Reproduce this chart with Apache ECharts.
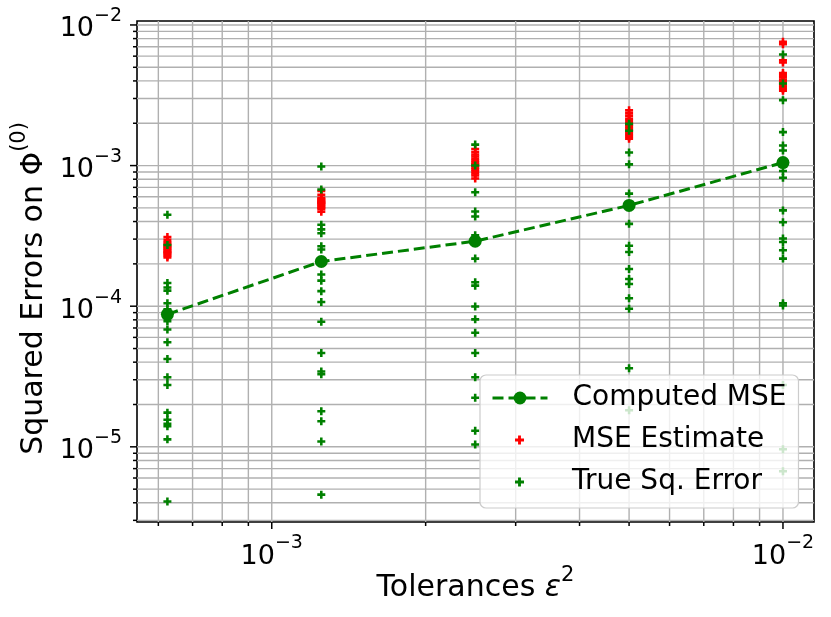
<!DOCTYPE html>
<html lang="en">
<head>
  <meta charset="UTF-8">
  <title>Squared errors vs tolerance</title>
  <script src="https://cdn.jsdelivr.net/npm/echarts@6.0.0/dist/echarts.min.js"></script>
  <style>
    html, body { margin: 0; padding: 0; background: #fff; }
    #main { width: 831px; height: 617px; }
  </style>
</head>
<body>
  <div id="main"></div>
  <script type="text/javascript">
    // tolerances eps^2 (one column of points per tolerance)
    var tolerances = [6.25e-4, 1.25e-3, 2.5e-3, 5e-3, 1e-2];
    var computedMse = [8.75e-5, 2.08e-4, 2.9e-4, 5.21e-4, 1.05e-3];

    // MSE estimates, one list per tolerance
    var mseEstimate = [
      [3.1e-4, 2.95e-4, 2.85e-4, 2.78e-4, 2.7e-4, 2.65e-4, 2.6e-4, 2.55e-4, 2.5e-4, 2.45e-4, 2.42e-4, 2.38e-4, 2.33e-4, 2.28e-4, 2.22e-4],
      [6.6e-4, 6.2e-4, 5.9e-4, 5.8e-4, 5.7e-4, 5.6e-4, 5.5e-4, 5.45e-4, 5.4e-4, 5.3e-4, 5.2e-4, 5.1e-4, 5.0e-4, 4.9e-4, 4.7e-4],
      [1.31e-3, 1.25e-3, 1.2e-3, 1.16e-3, 1.12e-3, 1.08e-3, 1.05e-3, 1.02e-3, 1.0e-3, 9.7e-4, 9.4e-4, 9.1e-4, 8.8e-4, 8.5e-4, 8.1e-4],
      [2.47e-3, 2.35e-3, 2.25e-3, 2.15e-3, 2.08e-3, 2.0e-3, 1.95e-3, 1.9e-3, 1.85e-3, 1.8e-3, 1.75e-3, 1.7e-3, 1.65e-3, 1.6e-3, 1.55e-3],
      [7.6e-3, 7.3e-3, 5.6e-3, 5.4e-3, 4.55e-3, 4.4e-3, 4.25e-3, 4.1e-3, 4.0e-3, 3.9e-3, 3.8e-3, 3.7e-3, 3.6e-3, 3.5e-3, 3.4e-3]
    ];

    // true squared errors, one list per tolerance
    var trueSqError = [
      [4.47e-4, 2.72e-4, 1.46e-4, 1.36e-4, 1.29e-4, 1.05e-4, 9.5e-5, 7.83e-5, 6.83e-5, 5.54e-5, 4.21e-5, 3.12e-5, 2.75e-5, 1.75e-5, 1.56e-5, 1.46e-5, 1.4e-5, 1.13e-5, 4.09e-6],
      [9.85e-4, 6.76e-4, 3.79e-4, 3.52e-4, 3.3e-4, 2.67e-4, 2.53e-4, 1.68e-4, 1.52e-4, 1.28e-4, 1.07e-4, 7.76e-5, 4.65e-5, 3.43e-5, 3.28e-5, 1.79e-5, 1.52e-5, 1.09e-5, 4.57e-6],
      [1.41e-3, 1.0e-3, 6.47e-4, 4.72e-4, 4.35e-4, 3.2e-4, 2.9e-4, 2.18e-4, 1.48e-4, 1.4e-4, 9.95e-5, 8.06e-5, 6.47e-5, 4.65e-5, 3.12e-5, 2.23e-5, 1.3e-5, 1.04e-5],
      [1.98e-3, 1.77e-3, 1.24e-3, 1.02e-3, 6.32e-4, 3.85e-4, 2.69e-4, 2.43e-4, 1.84e-4, 1.56e-4, 1.44e-4, 1.14e-4, 9.6e-5, 3.62e-5, 1.82e-5],
      [6.16e-3, 3.84e-3, 2.92e-3, 1.73e-3, 1.39e-3, 1.28e-3, 9.16e-4, 8.2e-4, 4.8e-4, 3.95e-4, 3.03e-4, 2.86e-4, 2.5e-4, 2.18e-4, 1.05e-4, 1.01e-4, 2.75e-5, 9.6e-6, 6.7e-6]
    ];

    // axis ranges and tick positions
    var xRange = [5.45e-4, 1.15e-2];
    var yRange = [2.92e-6, 1.067e-2];
    var xMajorTicks = [1e-3, 1e-2];
    var xMinorTicks = [6e-4, 7e-4, 8e-4, 9e-4, 2e-3, 3e-3, 4e-3, 5e-3, 6e-3, 7e-3, 8e-3, 9e-3];
    var yMajorTicks = [1e-5, 1e-4, 1e-3, 1e-2];
    var yMinorTicks = [3e-6, 4e-6, 5e-6, 6e-6, 7e-6, 8e-6, 9e-6,
      2e-5, 3e-5, 4e-5, 5e-5, 6e-5, 7e-5, 8e-5, 9e-5,
      2e-4, 3e-4, 4e-4, 5e-4, 6e-4, 7e-4, 8e-4, 9e-4,
      2e-3, 3e-3, 4e-3, 5e-3, 6e-3, 7e-3, 8e-3, 9e-3];

    var FONT = 'DejaVu Sans';
    var GRID_COLOR = '#b0b0b0';
    var PLUS = 'path://M3.4,0H6.6V3.4H10V6.6H6.6V10H3.4V6.6H0V3.4H3.4Z';
    var LEGEND_TEXT = { fontFamily: FONT, fontSize: 28, color: '#000', lineHeight: 30, padding: [0, 0, 0, 20] };

    function toPairs(groups) {
      var out = [];
      groups.forEach(function (g, i) {
        g.forEach(function (v) { out.push([tolerances[i], v]); });
      });
      return out;
    }

    function tickData(major, minor, other) {
      var out = [];
      major.forEach(function (v) { out.push([v, other, 1]); });
      minor.forEach(function (v) { out.push([v, other, 0]); });
      return out;
    }

    // power-of-ten label with superscript exponent
    function powLabel(v) {
      var e = Math.round(Math.log10(v));
      if (Math.abs(Math.log10(v) - e) > 1e-6) return '';
      return '{b|10}{s|\u2212' + Math.abs(e) + '}';
    }

    var labelRich = {
      b: { fontFamily: FONT, fontSize: 27, color: '#000', lineHeight: 36, verticalAlign: 'bottom' },
      s: { fontFamily: FONT, fontSize: 19, color: '#000', lineHeight: 22, verticalAlign: 'top' }
    };

    function renderXTick(params, api) {
      var cs = params.coordSys;
      var px = api.coord([api.value(0), yRange[0]])[0];
      var len = api.value(2) === 1 ? 7 : 4;
      var bottom = cs.y + cs.height;
      return {
        type: 'group',
        children: [
          { type: 'line', shape: { x1: px, y1: cs.y, x2: px, y2: bottom }, style: { stroke: GRID_COLOR, lineWidth: 1.4 } },
          { type: 'line', shape: { x1: px, y1: bottom, x2: px, y2: bottom + len }, style: { stroke: '#000', lineWidth: 1.5 } }
        ]
      };
    }

    function renderYTick(params, api) {
      var cs = params.coordSys;
      var py = api.coord([xRange[0], api.value(1)])[1];
      var len = api.value(2) === 1 ? 7 : 4;
      return {
        type: 'group',
        children: [
          { type: 'line', shape: { x1: cs.x, y1: py, x2: cs.x + cs.width, y2: py }, style: { stroke: GRID_COLOR, lineWidth: 1.4 } },
          { type: 'line', shape: { x1: cs.x - len, y1: py, x2: cs.x, y2: py }, style: { stroke: '#000', lineWidth: 1.5 } }
        ]
      };
    }

    var myChart = echarts.init(document.getElementById('main'));

    var option = {
      animation: false,
      backgroundColor: '#fff',
      grid: {
        left: 137, right: 17, top: 21, bottom: 95,
        show: true, borderColor: '#000', borderWidth: 1.6, backgroundColor: 'transparent'
      },
      legend: [
        {
          // first row carries the frame for the whole legend
          orient: 'vertical',
          left: 480,
          top: 375,
          padding: [8, 12, 95, 11],
          itemWidth: 55,
          itemHeight: 16,
          backgroundColor: 'rgba(255,255,255,0.8)',
          borderColor: '#cccccc',
          borderWidth: 1.2,
          borderRadius: 6,
          lineStyle: { width: 3, type: [11, 5] },
          textStyle: LEGEND_TEXT,
          data: ['Computed MSE']
        },
        {
          orient: 'vertical',
          left: 480,
          top: 425,
          z: 5,
          padding: [0, 12, 0, 35],
          itemWidth: 55,
          itemHeight: 9,
          itemGap: 12,
          textStyle: LEGEND_TEXT,
          data: ['MSE Estimate', 'True Sq. Error']
        }
      ],
      xAxis: {
        type: 'log',
        logBase: 10,
        min: xRange[0],
        max: xRange[1],
        name: '{t|Tolerances }{i|\u03b5}{s|2}',
        nameLocation: 'middle',
        nameGap: 43,
        nameMoveOverlap: false,
        nameTextStyle: {
          rich: {
            t: { fontFamily: FONT, fontSize: 30, color: '#000', lineHeight: 38, verticalAlign: 'bottom' },
            i: { fontFamily: FONT, fontSize: 30, fontStyle: 'italic', color: '#000', lineHeight: 38, verticalAlign: 'bottom' },
            s: { fontFamily: FONT, fontSize: 21, color: '#000', lineHeight: 22, verticalAlign: 'top' }
          }
        },
        axisLine: { show: false },
        axisTick: { show: false },
        splitLine: { show: false },
        minorTick: { show: false },
        axisLabel: { margin: 12, formatter: powLabel, rich: labelRich, showMinLabel: false, showMaxLabel: false }
      },
      yAxis: {
        type: 'log',
        logBase: 10,
        min: yRange[0],
        max: yRange[1],
        name: '{t|Squared Errors on \u03a6}{s|(0)}',
        nameLocation: 'middle',
        nameGap: 86,
        nameRotate: 90,
        nameTextStyle: {
          padding: [0, 34, 0, 0],
          rich: {
            t: { fontFamily: FONT, fontSize: 30, color: '#000', lineHeight: 40, verticalAlign: 'bottom' },
            s: { fontFamily: FONT, fontSize: 21, color: '#000', lineHeight: 22, verticalAlign: 'top' }
          }
        },
        axisLine: { show: false },
        axisTick: { show: false },
        splitLine: { show: false },
        minorTick: { show: false },
        axisLabel: { margin: 15, formatter: powLabel, rich: labelRich, showMinLabel: false, showMaxLabel: false }
      },
      series: [
        {
          type: 'custom',
          silent: true,
          z: 1,
          renderItem: renderXTick,
          encode: { x: 0, y: 1 },
          data: tickData(xMajorTicks, xMinorTicks, yRange[0])
        },
        {
          type: 'custom',
          silent: true,
          z: 1,
          renderItem: renderYTick,
          encode: { x: 0, y: 1 },
          data: tickData(yMajorTicks, yMinorTicks, xRange[0]).map(function (d) { return [d[1], d[0], d[2]]; })
        },
        {
          name: 'MSE Estimate',
          type: 'scatter',
          z: 2,
          symbol: PLUS,
          symbolSize: 8,
          itemStyle: { color: '#ff0000', opacity: 1 },
          data: toPairs(mseEstimate)
        },
        {
          name: 'True Sq. Error',
          type: 'scatter',
          z: 2,
          symbol: PLUS,
          symbolSize: 8,
          itemStyle: { color: '#008000', opacity: 1 },
          data: toPairs(trueSqError)
        },
        {
          name: 'Computed MSE',
          type: 'line',
          z: 3,
          symbol: 'circle',
          symbolSize: 13,
          showAllSymbol: true,
          lineStyle: { color: '#008000', width: 3, type: [11, 5] },
          itemStyle: { color: '#008000' },
          data: tolerances.map(function (t, i) { return [t, computedMse[i]]; })
        }
      ]
    };

    myChart.setOption(option);
  </script>
</body>
</html>
